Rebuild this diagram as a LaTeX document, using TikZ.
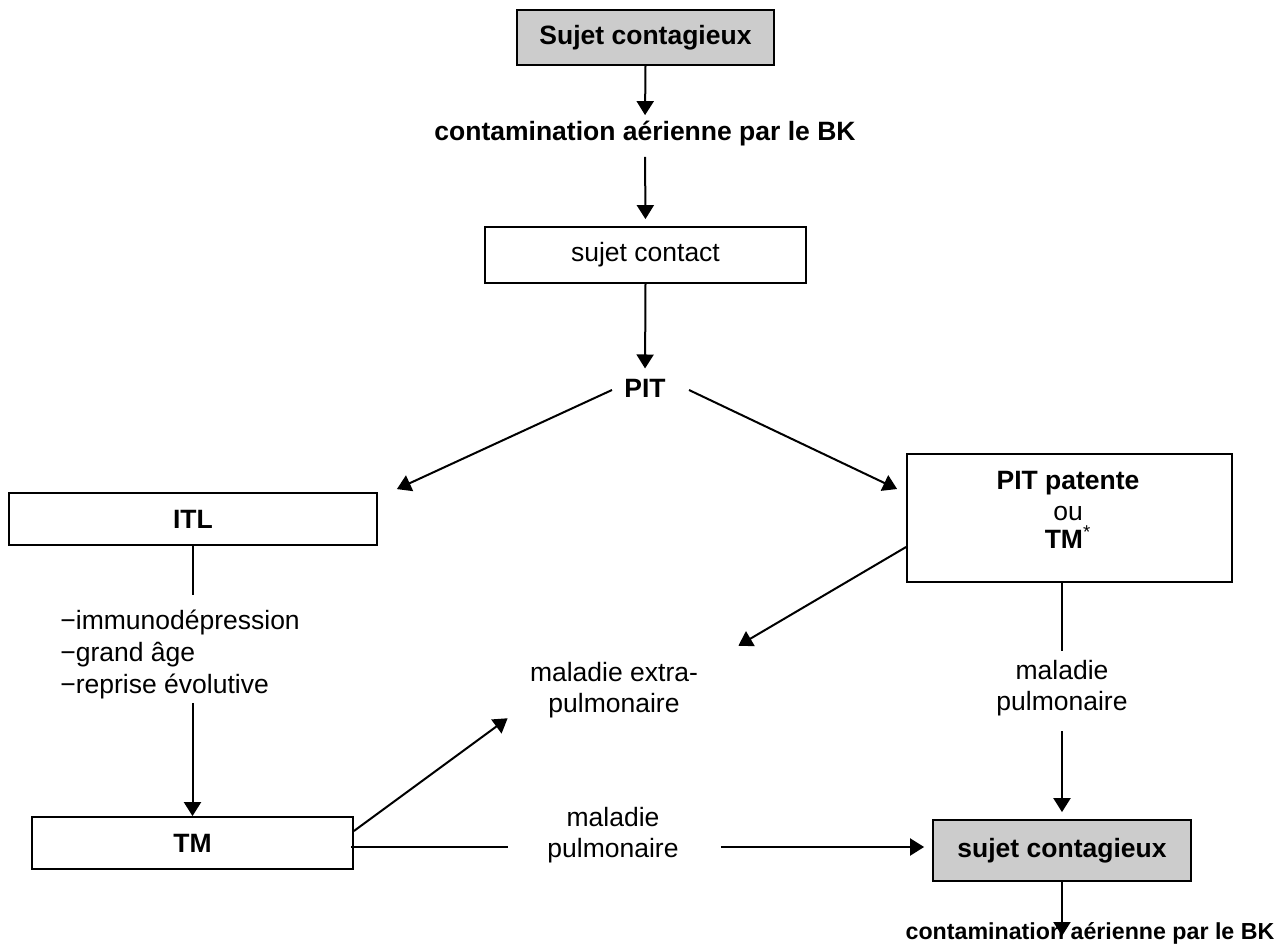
\documentclass[tikz,border=0pt]{standalone}
\usepackage{fontspec}
\setmainfont{Liberation Sans}
\usetikzlibrary{arrows.meta}
\usepackage{xcolor}

\begin{document}
\begin{tikzpicture}[x=0.5pt, y=-0.5pt,
  box/.style={draw, line width=0.9pt, inner sep=0pt},
  greybox/.style={box, fill=black!20},
  lbl/.style={inner sep=0pt, align=center},
  arr/.style={line width=1pt, -{Triangle[length=7pt,width=8.5pt]}},
  seg/.style={line width=1pt}]
\useasboundingbox (0,0) rectangle (1282,948);
\fontsize{13.25pt}{15.5pt}\selectfont

%%%%%% top of the chain %%%%%%
\node[greybox, minimum width=128.5pt, minimum height=27.5pt] (top) at (645.5,37.5) {\textbf{Sujet contagieux}};
\node[lbl] (cont1) at (645,134) {\textbf{contamination aérienne par le BK}};
\node[box, minimum width=160.5pt, minimum height=28pt] (contact) at (645.5,255) {sujet contact};
\node[lbl] (pit) at (645,388) {\textbf{PIT}};

\draw[arr, shorten >=3pt] (top.south) -- (cont1.north);
\draw[arr, shorten <=5pt, shorten >=3.5pt] (cont1.south) -- (contact.north);
\draw[arr, shorten >=5pt] (contact.south) -- (pit.north);

%%%%%% left branch %%%%%%
\node[box, minimum width=184pt, minimum height=26pt] (itl) at (193,519) {\textbf{ITL}};
\node[lbl, align=left, anchor=west, font=\fontsize{13.25pt}{16pt}\selectfont] (rfac) at (60,654)
  {−immunodépression\\−grand âge\\−reprise évolutive};
\node[box, minimum width=160.5pt, minimum height=26pt] (tm) at (192.5,843) {\textbf{TM}};

\draw[arr] ([xshift=-6pt,yshift=-1pt]pit.west) -- ([xshift=9.5pt,yshift=1.5pt]itl.north east);
\draw[seg, shorten >=7pt] (itl.south) -- (itl.south |- rfac.north);
\draw[arr, shorten <=2pt] (tm.north |- rfac.south) -- (tm.north);

%%%%%% right branch %%%%%%
\node[box, minimum width=162.5pt, minimum height=64pt] (patent) at (1069.5,518) {};
\node[lbl] (patenttxt) at (1068,510) {\textbf{PIT patente}\\ou\\[-1.5pt]\textbf{TM}\textsuperscript{*}};
\node[lbl] (pulm1) at (1062,688) {maladie\\pulmonaire};
\node[greybox, minimum width=129pt, minimum height=30.5pt] (bottom) at (1062,850.5) {\textbf{sujet contagieux}};
\node[lbl, font=\fontsize{11.6pt}{13pt}\selectfont] (cont2) at (1090,933) {\textbf{contamination aérienne par le BK}};

\draw[arr] ([xshift=11.5pt,yshift=-1pt]pit.east) -- ([xshift=-4.5pt,yshift=14.5pt]patent.west);
\draw[seg, shorten >=4.5pt] (patent.south -| pulm1) -- (pulm1.north);
\draw[arr, shorten <=7.5pt, shorten >=3.5pt] (pulm1.south) -- (bottom.north);
\draw[arr, shorten >=-1.5pt] (bottom.south) -- (bottom.south |- cont2.center);

%%%%%% middle %%%%%%
\node[lbl] (extra) at (614,690) {maladie extra-\\pulmonaire};
\node[lbl] (pulm2) at (613,835) {maladie\\pulmonaire};
\coordinate (hl) at ([xshift=-1.5pt,yshift=-2pt]tm.east);

\draw[arr] ([yshift=6pt]tm.east) -- ([xshift=-11pt]extra.south west);
\draw[arr] ([yshift=-14.5pt]patent.west) -- ([xshift=20pt,yshift=8pt]extra.north east);
\draw[seg, shorten >=19.5pt] (hl) -- (hl -| pulm2.west);
\draw[arr, shorten <=21pt, shorten >=4pt] (hl -| pulm2.east) -- (hl -| bottom.west);

\end{tikzpicture}
\end{document}
